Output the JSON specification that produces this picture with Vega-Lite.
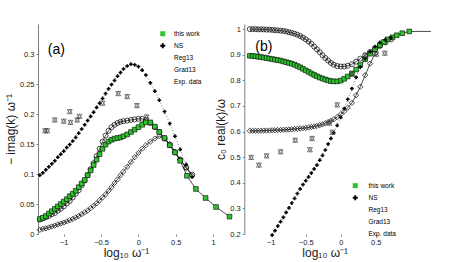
{
"$schema":"https://vega.github.io/schema/vega-lite/v6.json",
"width":367,"height":210,
"padding":4,
"title":{"text":" ","fontSize":12,"offset":4},
"config":{
 "font":"Liberation Sans",
 "view":{"stroke":null},
 "axis":{"grid":false,"domainColor":"#7f7f7f","domainWidth":1,"tickColor":"#7f7f7f","tickSize":2,"labelFontSize":7.5,"labelColor":"#1a1a1a","labelPadding":2,"titleFontSize":12,"titleFontWeight":"normal","titleColor":"#1a1a1a","labelFont":"Liberation Sans","titleFont":"Liberation Sans"},
 "axisX":{"titlePadding":2},
 "axisY":{"titlePadding":2},
 "legend":{"title":null,"symbolSize":25,"labelFontSize":6.5,"rowPadding":3,"padding":0,"symbolStrokeColor":"black","symbolStrokeWidth":0.7,"labelColor":"black","labelFont":"Liberation Sans"}
},
"datasets":{
"aNS":[{"x":-1.32,"y":0.098},{"x":-1.28,"y":0.102},{"x":-1.24,"y":0.107},{"x":-1.2,"y":0.112},{"x":-1.16,"y":0.117},{"x":-1.12,"y":0.122},{"x":-1.08,"y":0.128},{"x":-1.04,"y":0.133},{"x":-1,"y":0.138},{"x":-0.96,"y":0.144},{"x":-0.92,"y":0.149},{"x":-0.88,"y":0.155},{"x":-0.84,"y":0.161},{"x":-0.8,"y":0.168},{"x":-0.76,"y":0.175},{"x":-0.72,"y":0.182},{"x":-0.68,"y":0.189},{"x":-0.64,"y":0.196},{"x":-0.6,"y":0.203},{"x":-0.56,"y":0.211},{"x":-0.52,"y":0.218},{"x":-0.48,"y":0.226},{"x":-0.44,"y":0.234},{"x":-0.4,"y":0.242},{"x":-0.36,"y":0.249},{"x":-0.32,"y":0.256},{"x":-0.28,"y":0.263},{"x":-0.24,"y":0.269},{"x":-0.2,"y":0.275},{"x":-0.15,"y":0.28},{"x":-0.1,"y":0.283},{"x":-0.05,"y":0.282},{"x":0,"y":0.279},{"x":0.05,"y":0.273},{"x":0.1,"y":0.265},{"x":0.16,"y":0.252},{"x":0.22,"y":0.238},{"x":0.28,"y":0.223},{"x":0.35,"y":0.204},{"x":0.42,"y":0.184},{"x":0.49,"y":0.163},{"x":0.56,"y":0.141},{"x":0.64,"y":0.116},{"x":0.72,"y":0.095}],
"aReg":[{"x":-1.32,"y":0.024},{"x":-1.28,"y":0.026},{"x":-1.24,"y":0.028},{"x":-1.2,"y":0.03},{"x":-1.16,"y":0.033},{"x":-1.12,"y":0.035},{"x":-1.08,"y":0.039},{"x":-1.04,"y":0.042},{"x":-1,"y":0.046},{"x":-0.96,"y":0.051},{"x":-0.92,"y":0.055},{"x":-0.88,"y":0.061},{"x":-0.84,"y":0.067},{"x":-0.8,"y":0.073},{"x":-0.76,"y":0.081},{"x":-0.72,"y":0.089},{"x":-0.68,"y":0.098},{"x":-0.64,"y":0.108},{"x":-0.6,"y":0.118},{"x":-0.56,"y":0.13},{"x":-0.52,"y":0.142},{"x":-0.48,"y":0.154},{"x":-0.44,"y":0.164},{"x":-0.4,"y":0.172},{"x":-0.36,"y":0.178},{"x":-0.32,"y":0.182},{"x":-0.28,"y":0.185},{"x":-0.24,"y":0.187},{"x":-0.2,"y":0.188},{"x":-0.15,"y":0.189},{"x":-0.1,"y":0.19},{"x":-0.05,"y":0.191},{"x":0,"y":0.192},{"x":0.05,"y":0.192},{"x":0.1,"y":0.19},{"x":0.16,"y":0.185},{"x":0.22,"y":0.178},{"x":0.28,"y":0.17},{"x":0.35,"y":0.159},{"x":0.42,"y":0.148},{"x":0.49,"y":0.136},{"x":0.56,"y":0.124},{"x":0.64,"y":0.111},{"x":0.72,"y":0.099}],
"aGrad":[{"x":-1.32,"y":0.007},{"x":-1.28,"y":0.0085},{"x":-1.24,"y":0.0095},{"x":-1.2,"y":0.011},{"x":-1.16,"y":0.0125},{"x":-1.12,"y":0.014},{"x":-1.08,"y":0.016},{"x":-1.04,"y":0.0175},{"x":-1,"y":0.019},{"x":-0.96,"y":0.021},{"x":-0.92,"y":0.023},{"x":-0.88,"y":0.025},{"x":-0.84,"y":0.0275},{"x":-0.8,"y":0.03},{"x":-0.76,"y":0.033},{"x":-0.72,"y":0.036},{"x":-0.68,"y":0.039},{"x":-0.64,"y":0.043},{"x":-0.6,"y":0.047},{"x":-0.56,"y":0.051},{"x":-0.52,"y":0.056},{"x":-0.48,"y":0.061},{"x":-0.44,"y":0.066},{"x":-0.4,"y":0.072},{"x":-0.36,"y":0.078},{"x":-0.32,"y":0.085},{"x":-0.28,"y":0.091},{"x":-0.24,"y":0.098},{"x":-0.2,"y":0.104},{"x":-0.15,"y":0.112},{"x":-0.1,"y":0.12},{"x":-0.05,"y":0.128},{"x":0,"y":0.135},{"x":0.05,"y":0.142},{"x":0.1,"y":0.148},{"x":0.16,"y":0.154},{"x":0.22,"y":0.159},{"x":0.28,"y":0.163},{"x":0.35,"y":0.16},{"x":0.42,"y":0.15},{"x":0.49,"y":0.137},{"x":0.56,"y":0.124},{"x":0.64,"y":0.11},{"x":0.72,"y":0.097}],
"aThis":[{"x":-1.32,"y":0.025},{"x":-1.28,"y":0.027},{"x":-1.24,"y":0.03},{"x":-1.2,"y":0.034},{"x":-1.16,"y":0.038},{"x":-1.12,"y":0.042},{"x":-1.08,"y":0.046},{"x":-1.04,"y":0.05},{"x":-1,"y":0.054},{"x":-0.96,"y":0.058},{"x":-0.92,"y":0.063},{"x":-0.88,"y":0.067},{"x":-0.84,"y":0.072},{"x":-0.8,"y":0.078},{"x":-0.76,"y":0.084},{"x":-0.72,"y":0.09},{"x":-0.68,"y":0.098},{"x":-0.64,"y":0.106},{"x":-0.6,"y":0.115},{"x":-0.56,"y":0.124},{"x":-0.52,"y":0.133},{"x":-0.48,"y":0.142},{"x":-0.44,"y":0.149},{"x":-0.4,"y":0.154},{"x":-0.36,"y":0.157},{"x":-0.32,"y":0.159},{"x":-0.28,"y":0.16},{"x":-0.24,"y":0.161},{"x":-0.2,"y":0.163},{"x":-0.15,"y":0.166},{"x":-0.1,"y":0.17},{"x":-0.05,"y":0.174},{"x":0,"y":0.178},{"x":0.05,"y":0.182},{"x":0.1,"y":0.186},{"x":0.16,"y":0.186},{"x":0.22,"y":0.179},{"x":0.28,"y":0.17},{"x":0.35,"y":0.16},{"x":0.42,"y":0.148},{"x":0.49,"y":0.136},{"x":0.56,"y":0.122},{"x":0.65,"y":0.097},{"x":0.77,"y":0.075},{"x":0.9,"y":0.06},{"x":1.04,"y":0.045},{"x":1.22,"y":0.029}],
"aExp":[{"x":-1.25,"y":0.172},{"x":-1.22,"y":0.172},{"x":-1.12,"y":0.19},{"x":-1,"y":0.188},{"x":-0.92,"y":0.204},{"x":-0.91,"y":0.186},{"x":-0.82,"y":0.19},{"x":-0.79,"y":0.196},{"x":-0.48,"y":0.218},{"x":-0.27,"y":0.234},{"x":-0.15,"y":0.229},{"x":-0.02,"y":0.214},{"x":0.11,"y":0.195}],
"bNS":[{"x":-0.98,"y":0.196},{"x":-0.94,"y":0.213},{"x":-0.9,"y":0.231},{"x":-0.86,"y":0.248},{"x":-0.82,"y":0.265},{"x":-0.78,"y":0.284},{"x":-0.74,"y":0.302},{"x":-0.7,"y":0.321},{"x":-0.66,"y":0.339},{"x":-0.62,"y":0.358},{"x":-0.58,"y":0.376},{"x":-0.54,"y":0.393},{"x":-0.5,"y":0.408},{"x":-0.46,"y":0.423},{"x":-0.42,"y":0.438},{"x":-0.38,"y":0.454},{"x":-0.34,"y":0.469},{"x":-0.3,"y":0.488},{"x":-0.26,"y":0.507},{"x":-0.22,"y":0.528},{"x":-0.18,"y":0.551},{"x":-0.14,"y":0.573},{"x":-0.1,"y":0.595},{"x":-0.05,"y":0.624},{"x":0,"y":0.655},{"x":0.05,"y":0.69},{"x":0.1,"y":0.726},{"x":0.16,"y":0.768},{"x":0.22,"y":0.812},{"x":0.28,"y":0.852},{"x":0.35,"y":0.885},{"x":0.42,"y":0.912},{"x":0.49,"y":0.932},{"x":0.56,"y":0.948},{"x":0.64,"y":0.958},{"x":0.72,"y":0.966}],
"bReg":[{"x":-1.3,"y":1},{"x":-1.26,"y":1},{"x":-1.22,"y":1},{"x":-1.18,"y":0.999},{"x":-1.14,"y":0.999},{"x":-1.1,"y":0.999},{"x":-1.06,"y":0.998},{"x":-1.02,"y":0.998},{"x":-0.98,"y":0.997},{"x":-0.94,"y":0.996},{"x":-0.9,"y":0.995},{"x":-0.86,"y":0.994},{"x":-0.82,"y":0.993},{"x":-0.78,"y":0.991},{"x":-0.74,"y":0.988},{"x":-0.7,"y":0.985},{"x":-0.66,"y":0.982},{"x":-0.62,"y":0.978},{"x":-0.58,"y":0.973},{"x":-0.54,"y":0.967},{"x":-0.5,"y":0.96},{"x":-0.46,"y":0.952},{"x":-0.42,"y":0.943},{"x":-0.38,"y":0.932},{"x":-0.34,"y":0.921},{"x":-0.3,"y":0.91},{"x":-0.26,"y":0.898},{"x":-0.22,"y":0.887},{"x":-0.18,"y":0.877},{"x":-0.14,"y":0.868},{"x":-0.1,"y":0.861},{"x":-0.05,"y":0.856},{"x":0,"y":0.854},{"x":0.05,"y":0.854},{"x":0.1,"y":0.857},{"x":0.16,"y":0.863},{"x":0.22,"y":0.873},{"x":0.28,"y":0.885},{"x":0.35,"y":0.898},{"x":0.42,"y":0.911},{"x":0.49,"y":0.923},{"x":0.56,"y":0.935},{"x":0.64,"y":0.948},{"x":0.72,"y":0.96}],
"bGrad":[{"x":-1.3,"y":0.603},{"x":-1.26,"y":0.603},{"x":-1.22,"y":0.603},{"x":-1.18,"y":0.603},{"x":-1.14,"y":0.603},{"x":-1.1,"y":0.604},{"x":-1.06,"y":0.604},{"x":-1.02,"y":0.604},{"x":-0.98,"y":0.605},{"x":-0.94,"y":0.605},{"x":-0.9,"y":0.606},{"x":-0.86,"y":0.606},{"x":-0.82,"y":0.607},{"x":-0.78,"y":0.607},{"x":-0.74,"y":0.608},{"x":-0.7,"y":0.609},{"x":-0.66,"y":0.61},{"x":-0.62,"y":0.611},{"x":-0.58,"y":0.612},{"x":-0.54,"y":0.613},{"x":-0.5,"y":0.614},{"x":-0.46,"y":0.616},{"x":-0.42,"y":0.618},{"x":-0.38,"y":0.62},{"x":-0.34,"y":0.622},{"x":-0.3,"y":0.625},{"x":-0.26,"y":0.628},{"x":-0.22,"y":0.632},{"x":-0.18,"y":0.637},{"x":-0.14,"y":0.642},{"x":-0.1,"y":0.648},{"x":-0.05,"y":0.657},{"x":0,"y":0.667},{"x":0.05,"y":0.679},{"x":0.1,"y":0.693},{"x":0.16,"y":0.712},{"x":0.22,"y":0.742},{"x":0.28,"y":0.775},{"x":0.35,"y":0.82},{"x":0.42,"y":0.865},{"x":0.49,"y":0.905},{"x":0.56,"y":0.935},{"x":0.64,"y":0.955},{"x":0.72,"y":0.967}],
"bThis":[{"x":-1.3,"y":0.896},{"x":-1.26,"y":0.895},{"x":-1.22,"y":0.894},{"x":-1.18,"y":0.892},{"x":-1.14,"y":0.891},{"x":-1.1,"y":0.889},{"x":-1.06,"y":0.887},{"x":-1.02,"y":0.885},{"x":-0.98,"y":0.883},{"x":-0.94,"y":0.881},{"x":-0.9,"y":0.879},{"x":-0.86,"y":0.877},{"x":-0.82,"y":0.874},{"x":-0.78,"y":0.871},{"x":-0.74,"y":0.868},{"x":-0.7,"y":0.865},{"x":-0.66,"y":0.861},{"x":-0.62,"y":0.856},{"x":-0.58,"y":0.851},{"x":-0.54,"y":0.845},{"x":-0.5,"y":0.839},{"x":-0.46,"y":0.833},{"x":-0.42,"y":0.827},{"x":-0.38,"y":0.821},{"x":-0.34,"y":0.816},{"x":-0.3,"y":0.811},{"x":-0.26,"y":0.807},{"x":-0.22,"y":0.803},{"x":-0.18,"y":0.8},{"x":-0.14,"y":0.797},{"x":-0.1,"y":0.796},{"x":-0.05,"y":0.796},{"x":0,"y":0.799},{"x":0.05,"y":0.806},{"x":0.1,"y":0.815},{"x":0.16,"y":0.827},{"x":0.22,"y":0.842},{"x":0.28,"y":0.86},{"x":0.35,"y":0.882},{"x":0.42,"y":0.904},{"x":0.49,"y":0.922},{"x":0.56,"y":0.938},{"x":0.62,"y":0.95},{"x":0.67,"y":0.96},{"x":0.74,"y":0.968},{"x":0.8,"y":0.976},{"x":0.88,"y":0.984},{"x":0.98,"y":0.991},{"x":1.29,"y":0.991}],
"bExp":[{"x":-1.28,"y":0.499},{"x":-1.17,"y":0.469},{"x":-1.06,"y":0.505},{"x":-0.86,"y":0.521},{"x":-0.65,"y":0.566},{"x":-0.44,"y":0.529},{"x":-0.41,"y":0.573},{"x":-0.16,"y":0.633},{"x":-0.12,"y":0.597},{"x":-0.05,"y":0.704},{"x":0.16,"y":0.824},{"x":0.36,"y":0.896},{"x":0.51,"y":0.902},{"x":0.63,"y":0.906}]
},
"layer":[
{
 "encoding":{
  "x":{"field":"x","type":"quantitative","scale":{"domain":[-1.345,3.571],"nice":false,"zero":false},"axis":{"orient":"bottom","values":[-1,-0.5,0,0.5,1],"format":".1~f","domain":false,"title":"log₁₀ ω⁻¹","titleX":88}},
  "y":{"field":"y","type":"quantitative","scale":{"domain":[0,0.35],"nice":false,"zero":false},"axis":{"orient":"left","values":[0,0.05,0.1,0.15,0.2,0.25,0.3],"format":".2~f","title":"− imag(k) ω⁻¹"}}
 },
 "layer":[
  {"data":{"values":[{}]},"mark":{"type":"rule","color":"#7f7f7f","strokeWidth":1},"encoding":{"x":{"datum":-1.345},"x2":{"datum":1.01},"y":{"datum":0}}},
  {"data":{"name":"aGrad"},"mark":{"type":"line","color":"black","strokeWidth":0.7},"encoding":{}},
  {"data":{"name":"aGrad"},"mark":{"type":"point","shape":"diamond","filled":false,"stroke":"black","strokeWidth":0.7,"size":28,"opacity":1},"encoding":{}},
  {"data":{"name":"aReg"},"mark":{"type":"line","color":"black","strokeWidth":0.7},"encoding":{}},
  {"data":{"name":"aReg"},"mark":{"type":"point","shape":"circle","filled":false,"stroke":"black","strokeWidth":0.7,"size":25,"opacity":1},"encoding":{}},
  {"data":{"name":"aThis"},"mark":{"type":"line","color":"black","strokeWidth":0.7},"encoding":{}},
  {"data":{"name":"aThis"},"mark":{"type":"point","shape":"square","filled":true,"fill":"#2fc42f","stroke":"black","strokeWidth":0.6,"size":22,"opacity":1},"encoding":{}},
  {"data":{"name":"aNS"},"mark":{"type":"line","color":"#444","strokeWidth":0.7,"strokeDash":[1,2]},"encoding":{}},
  {"data":{"name":"aNS"},"mark":{"type":"point","shape":"cross","filled":true,"fill":"black","size":14,"opacity":1},"encoding":{}},
  {"data":{"name":"aExp"},"mark":{"type":"point","shape":"triangle-up","filled":false,"stroke":"#333","strokeWidth":0.6,"size":24,"opacity":1},"encoding":{}},
  {"data":{"name":"aExp"},"mark":{"type":"point","shape":"triangle-down","filled":false,"stroke":"#333","strokeWidth":0.6,"size":24,"opacity":1},"encoding":{}},
  {"data":{"values":[{"x":-1.1,"y":0.307,"t":"(a)"}]},"mark":{"type":"text","fontSize":14,"color":"black"},"encoding":{"text":{"field":"t"}}},
  {"data":{"values":[{"s":"this work"},{"s":"NS"},{"s":"Reg13"},{"s":"Grad13"},{"s":"Exp. data"}]},"mark":{"type":"point","filled":true,"stroke":"black","strokeWidth":0.7,"opacity":0},
   "encoding":{
    "x":{"value":0},"y":{"value":0},
    "shape":{"field":"s","type":"nominal","scale":{"domain":["this work","NS","Reg13","Grad13","Exp. data"],"range":["square","cross","circle","diamond","triangle-up"]},"legend":{"orient":"none","legendX":121.5,"legendY":6.5,"labelOffset":8,"symbolOpacity":1}},
    "fill":{"field":"s","type":"nominal","scale":{"domain":["this work","NS","Reg13","Grad13","Exp. data"],"range":["#2fc42f","black","white","white","white"]},"legend":{"orient":"none","legendX":121.5,"legendY":6.5,"labelOffset":8,"symbolOpacity":1}}
   }}
 ]
},
{
 "encoding":{
  "x":{"field":"x","type":"quantitative","scale":{"domain":[-4.328,0.919],"nice":false,"zero":false},"axis":{"orient":"bottom","values":[-1,-0.5,0,0.5],"format":".1~f","domain":false,"title":"log₁₀ ω⁻¹","titleX":286.7}},
  "y":{"field":"y","type":"quantitative","scale":{"domain":[0.2,1.02],"nice":false,"zero":false},"axis":{"orient":"left","offset":-206.3,"values":[0.2,0.3,0.4,0.5,0.6,0.7,0.8,0.9,1],"format":".1~f","title":"c₀ real(k)/ω"}}
 },
 "layer":[
  {"data":{"values":[{}]},"mark":{"type":"rule","color":"#7f7f7f","strokeWidth":1},"encoding":{"x":{"datum":-1.381},"x2":{"datum":0.919},"y":{"datum":0.2}}},
  {"data":{"name":"bGrad"},"mark":{"type":"line","color":"black","strokeWidth":0.7},"encoding":{}},
  {"data":{"name":"bGrad"},"mark":{"type":"point","shape":"diamond","filled":false,"stroke":"black","strokeWidth":0.7,"size":28,"opacity":1},"encoding":{}},
  {"data":{"name":"bReg"},"mark":{"type":"line","color":"black","strokeWidth":0.7},"encoding":{}},
  {"data":{"name":"bReg"},"mark":{"type":"point","shape":"circle","filled":false,"stroke":"black","strokeWidth":0.7,"size":25,"opacity":1},"encoding":{}},
  {"data":{"name":"bThis"},"mark":{"type":"line","color":"black","strokeWidth":0.7},"encoding":{}},
  {"data":{"name":"bThis"},"transform":[{"filter":"datum.x < 1.1"}],"mark":{"type":"point","shape":"square","filled":true,"fill":"#2fc42f","stroke":"black","strokeWidth":0.6,"size":22,"opacity":1},"encoding":{}},
  {"data":{"name":"bNS"},"mark":{"type":"line","color":"#444","strokeWidth":0.7,"strokeDash":[1,2]},"encoding":{}},
  {"data":{"name":"bNS"},"mark":{"type":"point","shape":"cross","filled":true,"fill":"black","size":14,"opacity":1},"encoding":{}},
  {"data":{"name":"bExp"},"mark":{"type":"point","shape":"triangle-up","filled":false,"stroke":"#333","strokeWidth":0.6,"size":24,"opacity":1},"encoding":{}},
  {"data":{"name":"bExp"},"mark":{"type":"point","shape":"triangle-down","filled":false,"stroke":"#333","strokeWidth":0.6,"size":24,"opacity":1},"encoding":{}},
  {"data":{"values":[{"x":-1.1,"y":0.929,"t":"(b)"}]},"mark":{"type":"text","fontSize":14,"color":"black"},"encoding":{"text":{"field":"t"}}},
  {"data":{"values":[{"s":"this work"},{"s":"NS"},{"s":"Reg13"},{"s":"Grad13"},{"s":"Exp. data"}]},"mark":{"type":"point","filled":true,"stroke":"black","strokeWidth":0.7,"opacity":0},
   "encoding":{
    "x":{"value":0},"y":{"value":0},
    "shape":{"field":"s","type":"nominal","scale":{"domain":["this work","NS","Reg13","Grad13","Exp. data"],"range":["square","cross","circle","diamond","triangle-up"]},"legend":{"orient":"none","legendX":314,"legendY":158.4,"labelOffset":10,"symbolOpacity":1}},
    "fill":{"field":"s","type":"nominal","scale":{"domain":["this work","NS","Reg13","Grad13","Exp. data"],"range":["#2fc42f","black","white","white","white"]},"legend":{"orient":"none","legendX":314,"legendY":158.4,"labelOffset":10,"symbolOpacity":1}}
   }}
 ]
}
],
"resolve":{"scale":{"x":"independent","y":"independent","shape":"independent","fill":"independent"},"legend":{"shape":"independent","fill":"independent"}}
}
